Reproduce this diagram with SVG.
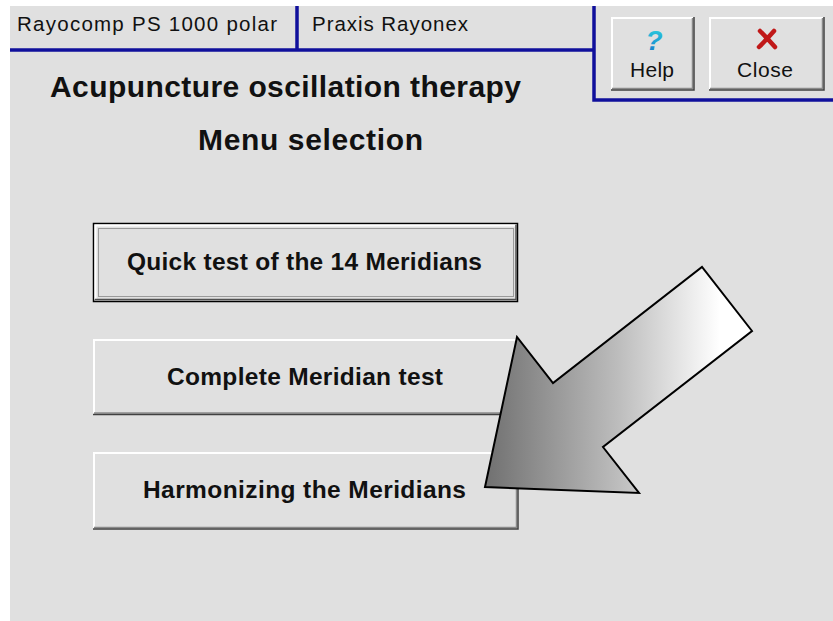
<svg xmlns="http://www.w3.org/2000/svg" width="833" height="621" viewBox="0 0 833 621">
  <defs>
    <linearGradient id="arrowGrad" gradientUnits="userSpaceOnUse" x1="485" y1="0" x2="752" y2="0">
      <stop offset="0" stop-color="#707070"/>
      <stop offset="0.5" stop-color="#bdbdbd"/>
      <stop offset="0.88" stop-color="#ffffff"/>
      <stop offset="1" stop-color="#ffffff"/>
    </linearGradient>
    <linearGradient id="qGrad" x1="0" y1="0" x2="0" y2="1">
      <stop offset="0" stop-color="#30d8e0"/>
      <stop offset="1" stop-color="#1070c8"/>
    </linearGradient>
  </defs>
  <style>
    .bg { fill: #e0e0e0; }
    .blue { stroke: #10109c; stroke-width: 3.5; fill: none; }
    .hdr { font-family: "Liberation Sans", Arial, sans-serif; font-size: 20.5px; fill: #111; }
    .title { font-family: "Liberation Sans", Arial, sans-serif; font-size: 30px; font-weight: bold; fill: #111; }
    .btxt { font-family: "Liberation Sans", Arial, sans-serif; font-size: 24.5px; font-weight: bold; fill: #111; }
    .stxt { font-family: "Liberation Sans", Arial, sans-serif; font-size: 21px; fill: #111; text-anchor: middle; }
    .face { fill: #e0e0e0; }
    .hi { stroke: #ffffff; stroke-width: 2; fill: none; }
    .sh1 { stroke: #404040; stroke-width: 1.5; fill: none; }
    .sh2 { stroke: #8a8a8a; stroke-width: 1.5; fill: none; }
  </style>

  <rect x="0" y="0" width="833" height="621" fill="#ffffff"/>
  <rect class="bg" x="10" y="6" width="823" height="615"/>

  <g id="header">
    <line class="blue" x1="10" y1="50" x2="594" y2="50"/>
    <line class="blue" x1="297" y1="6" x2="297" y2="50"/>
    <polyline class="blue" points="594,6 594,100 833,100"/>
    <text class="hdr" x="17" y="31" textLength="260">Rayocomp PS 1000 polar</text>
    <text class="hdr" x="312" y="31" textLength="156">Praxis Rayonex</text>
  </g>

  <g id="btn-help">
    <rect class="face" x="611" y="17" width="83" height="73"/>
    <polyline class="hi" points="612,89 612,18 693,18"/>
    <polyline class="sh2" points="612,88.5 692.5,88.5 692.5,18"/>
    <polyline class="sh1" points="611,90 694,90 694,17"/>
    <text x="654" y="50" text-anchor="middle" font-family="Liberation Sans, Arial, sans-serif" font-size="28" font-weight="bold" font-style="italic" fill="url(#qGrad)">?</text>
    <text class="stxt" x="652" y="77" textLength="44">Help</text>
  </g>

  <g id="btn-close">
    <rect class="face" x="709" y="17" width="115" height="73"/>
    <polyline class="hi" points="710,89 710,18 823,18"/>
    <polyline class="sh2" points="710,88.5 822.5,88.5 822.5,18"/>
    <polyline class="sh1" points="709,90 824,90 824,17"/>
    <path d="M760,31 Q767,38 775,47 M774,31 Q767,39 759,47" stroke="#c01818" stroke-width="4.5" stroke-linecap="round" fill="none"/>
    <text class="stxt" x="765" y="77" textLength="56">Close</text>
  </g>

  <g id="heading">
    <text class="title" x="50" y="97" textLength="471">Acupuncture oscillation therapy</text>
    <text class="title" x="198" y="150" textLength="225">Menu selection</text>
  </g>

  <g id="btn-quick">
    <rect x="93.5" y="223.5" width="424" height="78" fill="#e0e0e0" stroke="#000" stroke-width="1.5"/>
    <polyline class="hi" points="95.5,299 95.5,225.5 515,225.5"/>
    <polyline points="95,299.5 516,299.5 516,225" stroke="#505050" stroke-width="1.5" fill="none"/>
    <rect x="98.5" y="228.5" width="415" height="68" fill="none" stroke="#555" stroke-width="1" stroke-dasharray="1,1"/>
    <text class="btxt" x="127" y="270" textLength="355">Quick test of the 14 Meridians</text>
  </g>

  <g id="btn-complete">
    <rect class="face" x="93" y="339" width="425" height="76"/>
    <polyline class="hi" points="94,414 94,340 517,340"/>
    <polyline class="sh2" points="94,413 516.5,413 516.5,340"/>
    <polyline class="sh1" points="93,414.5 518,414.5 518,339"/>
    <text class="btxt" x="167" y="385" textLength="276">Complete Meridian test</text>
  </g>

  <g id="btn-harmonize">
    <rect class="face" x="93" y="452" width="425" height="78"/>
    <polyline class="hi" points="94,529 94,453 517,453"/>
    <polyline class="sh2" points="94,527.5 516.5,527.5 516.5,453"/>
    <polyline class="sh1" points="93,529 518,529 518,452"/>
    <text class="btxt" x="143" y="498" textLength="323">Harmonizing the Meridians</text>
  </g>

  <g id="pointer-arrow">
    <polygon points="485,487 517,337 553,383 702,267 752,331 603,447 639,493" fill="url(#arrowGrad)" stroke="#000" stroke-width="2" stroke-linejoin="miter"/>
  </g>
</svg>
